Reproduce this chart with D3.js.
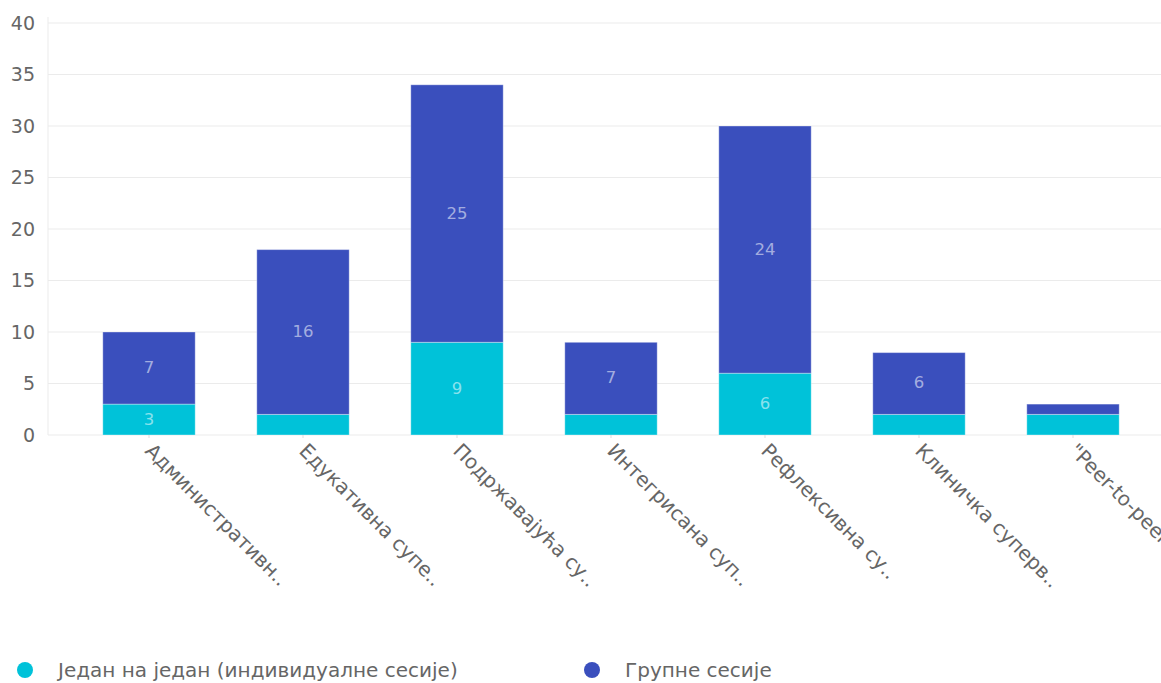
<!DOCTYPE html>
<html>
<head>
<meta charset="utf-8">
<script src="https://cdn.jsdelivr.net/npm/d3@7"></script>
<style>
  html, body { margin: 0; padding: 0; background: #fff; }
  svg { display: block; font-family: "DejaVu Sans", sans-serif; }
</style>
</head>
<body>
<svg id="chart" width="1161" height="683"></svg>
<script>
const categories = [
  "Административн..",
  "Едукативна супе..",
  "Подржавајућа су..",
  "Интегрисана суп..",
  "Рефлексивна су..",
  "Клиничка суперв..",
  "\"Peer-to-peer\" с.."
];
const seriesNames = ["Један на један (индивидуалне сесије)", "Групне сесије"];
const individualValues = [3, 2, 9, 2, 6, 2, 2];
const groupValues = [7, 16, 25, 7, 24, 6, 1];
const yTicks = [0, 5, 10, 15, 20, 25, 30, 35, 40];
const colors = ["#00c2d9", "#3a4fbd"];

const svg = d3.select("#chart");
const plot = { left: 48, right: 1161, top: 23, bottom: 435 };

const y = d3.scaleLinear().domain([0, 40]).range([plot.bottom, plot.top]);
const x = d3.scaleBand().domain(categories).range([72, 1150]).paddingInner(0.4).paddingOuter(0.2);

// gridlines
svg.append("g")
  .selectAll("line")
  .data(yTicks)
  .join("line")
  .attr("x1", plot.left).attr("x2", plot.right)
  .attr("y1", d => y(d)).attr("y2", d => y(d))
  .attr("stroke", "#ebebeb").attr("stroke-width", 1);

// vertical axis line
svg.append("line")
  .attr("x1", plot.left).attr("x2", plot.left)
  .attr("y1", plot.top - 6).attr("y2", plot.bottom)
  .attr("stroke", "#ebebeb");

// y axis labels
const yAxis = d3.axisLeft(y).tickValues(yTicks).tickSize(0).tickPadding(13);
const gy = svg.append("g").attr("transform", `translate(${plot.left},0)`).call(yAxis);
gy.select(".domain").remove();
gy.selectAll("text")
  .attr("fill", "#666").attr("font-size", 19)
  .attr("font-family", "\"DejaVu Sans\", sans-serif");

// stacked data
const rows = categories.map((c, i) => ({ cat: c, a: individualValues[i], b: groupValues[i] }));
const stack = d3.stack().keys(["a", "b"])(rows);

const layers = svg.append("g").selectAll("g")
  .data(stack)
  .join("g")
  .attr("fill", (d, i) => colors[i]);

layers.selectAll("rect")
  .data(d => d)
  .join("rect")
  .attr("x", d => x(d.data.cat))
  .attr("width", x.bandwidth())
  .attr("y", d => y(d[1]))
  .attr("height", d => y(d[0]) - y(d[1]))
  .attr("stroke", "rgba(255,255,255,0.35)")
  .attr("stroke-width", 1);

// segment value labels
layers.selectAll("text")
  .data(d => d.map(s => ({ s, v: s[1] - s[0] })))
  .join("text")
  .filter(d => d.v >= 3)
  .attr("x", d => x(d.s.data.cat) + x.bandwidth() / 2)
  .attr("y", d => y((d.s[0] + d.s[1]) / 2))
  .attr("dy", "0.3em")
  .attr("text-anchor", "middle")
  .attr("fill", "#ffffff")
  .attr("fill-opacity", 0.55)
  .attr("font-size", 16.5)
  .text(d => d.v);

// category labels, rotated
const xAxis = d3.axisBottom(x).tickSize(3).tickSizeOuter(0);
const gx = svg.append("g").attr("transform", `translate(0,${plot.bottom})`).call(xAxis);
gx.select(".domain").remove();
gx.selectAll(".tick line").attr("stroke", "#ddd");
gx.selectAll("text")
  .attr("fill", "#666").attr("font-size", 20)
  .attr("font-family", "\"DejaVu Sans\", sans-serif")
  .attr("text-anchor", "start")
  .attr("transform", "translate(0,12) rotate(45)")
  .attr("dy", "0.35em")
  .attr("y", 0).attr("x", 0);

// legend
const legend = svg.append("g");
const legendX = [25, 592];
seriesNames.forEach((name, i) => {
  legend.append("circle").attr("cx", legendX[i]).attr("cy", 670).attr("r", 8).attr("fill", colors[i]);
  legend.append("text").attr("x", legendX[i] + 33).attr("y", 670).attr("dy", "0.35em")
    .attr("fill", "#666").attr("font-size", 20).text(name);
});
</script>
</body>
</html>
